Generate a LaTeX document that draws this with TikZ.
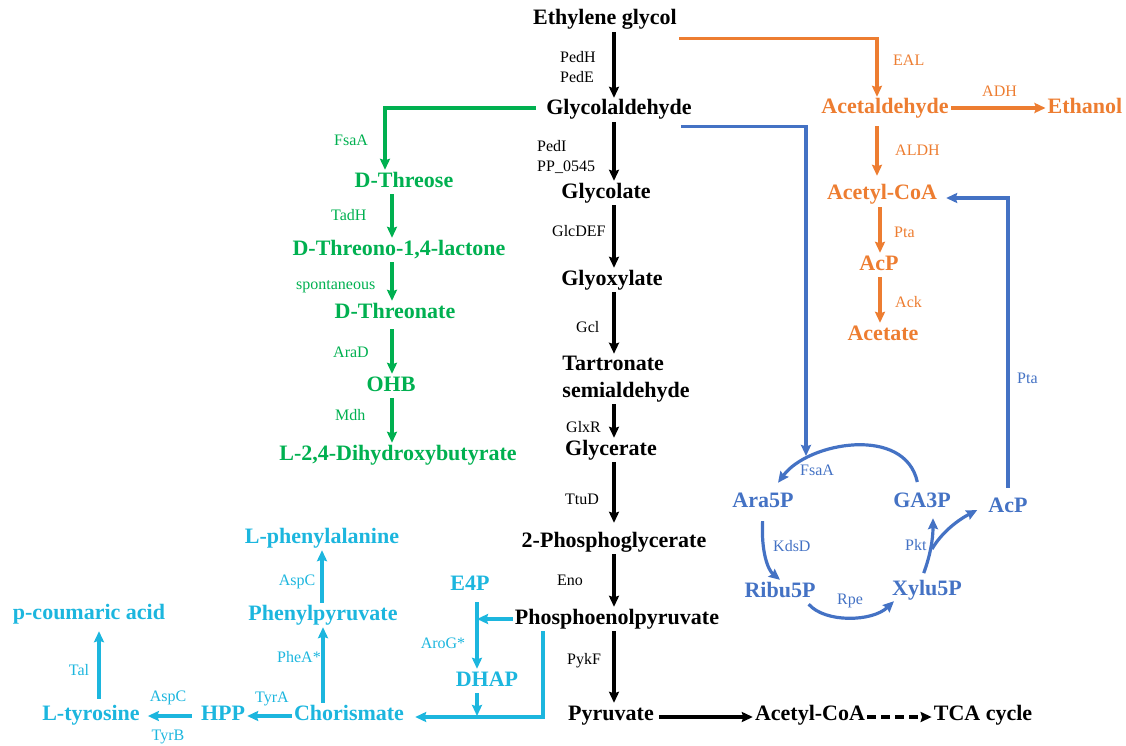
\documentclass[tikz,border=0pt]{standalone}
\usepackage{fontspec}
\setmainfont{Liberation Serif}
\usetikzlibrary{arrows.meta}
\definecolor{cO}{HTML}{ED7D31}
\definecolor{cG}{HTML}{00B050}
\definecolor{cB}{HTML}{4472C4}
\definecolor{cC}{HTML}{1CB6DE}
\tikzset{
  met/.style={font=\bfseries\fontsize{22}{24}\selectfont, inner sep=2pt, text height=15pt, text depth=5pt},
  enz/.style={font=\fontsize{16}{18}\selectfont, inner sep=0pt},
  arr/.style={line width=3.2pt, -{Stealth[length=11pt,width=10pt,inset=1.5pt]}},
}
\begin{document}
\begin{tikzpicture}[x=1pt,y=-1pt]
\useasboundingbox (0,0) rectangle (1126,746);
\coordinate (ax) at (614,0);
\coordinate (oX) at (877,0);
\coordinate (oY) at (880,0);
\coordinate (gX0) at (385,0);
\coordinate (gX) at (392,0);
\coordinate (cx) at (477,0);
\coordinate (cx2) at (543,0);
\coordinate (bX) at (806,0);
\coordinate (tX) at (99,0);
% ---------- black main pathway
\node[met] (eg) at (605,20) {Ethylene glycol};
\node[met] (ga) at (619,110) {Glycolaldehyde};
\node[met] (gc) at (606,193) {Glycolate};
\node[met] (gx) at (612,280) {Glyoxylate};
\node[font=\bfseries\fontsize{22}{27}\selectfont, align=left, inner sep=2pt] (ts) at (626,379) {Tartronate\\semialdehyde};
\node[met] (gl) at (611,450) {Glycerate};
\node[met] (pg) at (614,542) {2-Phosphoglycerate};
\node[met] (pep) at (617,619) {Phosphoenolpyruvate};
\node[met] (pyr) at (611,715) {Pyruvate};
\node[met] (acb) at (810,715) {Acetyl-CoA};
\node[met] (tca) at (983,715) {TCA cycle};
\draw[arr] (eg.south -| ax) -- (ga.north -| ax);
\draw[arr] (ga.south -| ax) -- (gc.north -| ax);
\draw[arr] (gc.south -| ax) -- (gx.north -| ax);
\draw[arr] (gx.south -| ax) -- (ts.north -| ax);
\draw[arr] (ts.south -| ax) -- (gl.north -| ax);
\draw[arr,shorten >=7pt] (gl.south -| ax) -- (pg.north -| ax);
\draw[arr] (pg.south -| ax) -- (pep.north -| ax);
\draw[arr] (pep.south -| ax) -- (pyr.north -| ax);
\draw[arr,shorten <=3pt] ([yshift=-2pt]pyr.east) -- ([yshift=-2pt]acb.west);
\draw[arr,dash pattern=on 9pt off 5pt] ([yshift=-2pt]acb.east) -- ([yshift=-2pt]tca.west);
\node[enz,anchor=west] (e1) at (560,57) {PedH};
\node[enz,anchor=west] (e2) at (560,77) {PedE};
\node[enz,anchor=west] (e3) at (537,146) {PedI};
\node[enz,anchor=west] (e4) at (537,167) {PP\_0545};
\node[enz,anchor=west] (e5) at (552,231) {GlcDEF};
\node[enz,anchor=west] (e6) at (576,327) {Gcl};
\node[enz,anchor=west] (e7) at (566,427) {GlxR};
\node[enz,anchor=west] (e8) at (565,499) {TtuD};
\node[enz,anchor=west] (e9) at (557,580) {Eno};
\node[enz,anchor=west] (e10) at (567,661) {PykF};
% ---------- orange
\node[met,cO] (acd) at (885,109) {Acetaldehyde};
\node[met,cO] (eth) at (1085,109) {Ethanol};
\node[met,cO] (acoa) at (882,195) {Acetyl-CoA};
\node[met,cO] (acp) at (879,265) {AcP};
\node[met,cO] (act) at (883,335) {Acetate};
\draw[arr,cO] ([yshift=-6pt]eg.south east) -| (acd.north -| oX);
\draw[arr,cO] ([yshift=1pt]acd.east) -- ([yshift=1pt]eth.west);
\draw[arr,cO,shorten <=5pt,shorten >=7pt] (acd.south -| oX) -- (acoa.north -| oX);
\draw[arr,cO] (acoa.south -| oY) -- (acp.north -| oY);
\draw[arr,cO] (acp.south -| oY) -- (act.north -| oY);
\node[enz,cO,anchor=west] (o1) at (893,60) {EAL};
\node[enz,cO,anchor=west] (o2) at (982,91) {ADH};
\node[enz,cO,anchor=west] (o3) at (895,150) {ALDH};
\node[enz,cO,anchor=west] (o4) at (894,232) {Pta};
\node[enz,cO,anchor=west] (o5) at (895,302) {Ack};
% ---------- green
\node[met,cG] (thr) at (404,182) {D-Threose};
\node[met,cG] (lac) at (399,250) {D-Threono-1,4-lactone};
\node[met,cG] (thn) at (395,313) {D-Threonate};
\node[met,cG] (ohb) at (391,386) {OHB};
\node[met,cG] (dhb) at (398,455) {L-2,4-Dihydroxybutyrate};
\draw[arr,cG] ([xshift=-8pt,yshift=2pt]ga.west) -| (thr.north -| gX0);
\draw[arr,cG] (thr.south -| gX) -- (lac.north -| gX);
\draw[arr,cG] (lac.south -| gX) -- (thn.north -| gX);
\draw[arr,cG,shorten <=4pt] (thn.south -| gX) -- (ohb.north -| gX);
\draw[arr,cG] (ohb.south -| gX) -- (dhb.north -| gX);
\node[enz,cG,anchor=west] (g1) at (334,140) {FsaA};
\node[enz,cG,anchor=west] (g2) at (331,215) {TadH};
\node[enz,cG,anchor=west] (g3) at (296,287) {spontaneous};
\node[enz,cG,anchor=west] (g4) at (333,352) {AraD};
\node[enz,cG,anchor=west] (g5) at (335,415) {Mdh};
% ---------- blue
\node[met,cB] (ara) at (763,502) {Ara5P};
\node[met,cB] (ga3p) at (922,502) {GA3P};
\node[met,cB] (acpb) at (1008,507) {AcP};
\node[met,cB] (ribu) at (780,592) {Ribu5P};
\node[met,cB] (xylu) at (927,590) {Xylu5P};
\coordinate (fsin) at (806,456);
\draw[arr,cB] ([xshift=-13pt,yshift=-4pt]ga.south east) -| (fsin);
\draw[arr,cB,shorten <=8pt] ([xshift=-3pt]ga3p.north) .. controls (905,425) and (808,442) .. ([xshift=15pt,yshift=7pt]ara.north);
\draw[arr,cB,shorten <=7pt] (ara.south) .. controls (761,552) and (768,570) .. (ribu.north);
\draw[arr,cB] ([xshift=-9pt]ribu.south east) .. controls (825,623) and (872,622) .. ([xshift=4pt,yshift=1pt]xylu.south west);
\draw[arr,cB,shorten <=5pt] ([xshift=-5pt]xylu.north) .. controls (930,556) and (933,540) .. ([xshift=11pt,yshift=-4pt]ga3p.south);
\coordinate (pk) at (932,549);
\draw[arr,cB] (pk) .. controls (942,532) and (958,520) .. ([xshift=-9pt,yshift=-3pt]acpb.west);
\draw[arr,cB,shorten <=7pt,shorten >=7pt] (acpb.north) |- ([yshift=-3pt]acoa.east);
\node[enz,cB,anchor=west] (b1) at (800,470) {FsaA};
\node[enz,cB,anchor=west] (b2) at (773,546) {KdsD};
\node[enz,cB,anchor=west] (b3) at (837,601) {Rpe};
\node[enz,cB,anchor=west] (b4) at (905,545) {Pkt};
\node[enz,cB,anchor=west] (b5) at (1017,378) {Pta};
% ---------- cyan
\node[met,cC] (e4p) at (470,585) {E4P};
\node[met,cC] (dhap) at (487,681) {DHAP};
\node[met,cC] (cho) at (349,715) {Chorismate};
\node[met,cC] (hpp) at (223,715) {HPP};
\node[met,cC] (tyr) at (91,715) {L-tyrosine};
\node[met,cC] (pca) at (89,614) {p-coumaric acid};
\node[met,cC] (ppy) at (323,615) {Phenylpyruvate};
\node[met,cC] (phe) at (322,538) {L-phenylalanine};
\draw[arr,cC,shorten <=5pt] (e4p.south -| cx) -- (dhap.north -| cx);
\draw[arr,cC] (pep.west) -- (pep.west -| cx);
\draw[arr,cC] (dhap.south -| cx) -- ([yshift=-1pt]cho.east -| cx);
\draw[arr,cC,shorten >=9pt] (pep.south -| cx2) |- ([yshift=-2pt]cho.east);
\draw[arr,cC] (cho.north -| ppy) -- (ppy.south);
\draw[arr,cC] (ppy.north -| phe) -- (phe.south);
\draw[arr,cC] ([yshift=-1pt]cho.west) -- ([yshift=-1pt]hpp.east);
\draw[arr,cC,shorten <=7pt,shorten >=6pt] ([yshift=-1pt]hpp.west) -- ([yshift=-1pt]tyr.east);
\draw[arr,cC,shorten <=4pt,shorten >=5pt] (tyr.north -| tX) -- (pca.south -| tX);
\node[enz,cC] (c1) at (297,582) {AspC};
\node[enz,cC] (c2) at (299,657) {PheA*};
\node[enz,cC] (c3) at (272,699) {TyrA};
\node[enz,cC] (c4) at (168,698) {AspC};
\node[enz,cC] (c5) at (168,737) {TyrB};
\node[enz,cC] (c6) at (79,670) {Tal};
\node[enz,cC] (c7) at (443,643) {AroG*};
\end{tikzpicture}
\end{document}
